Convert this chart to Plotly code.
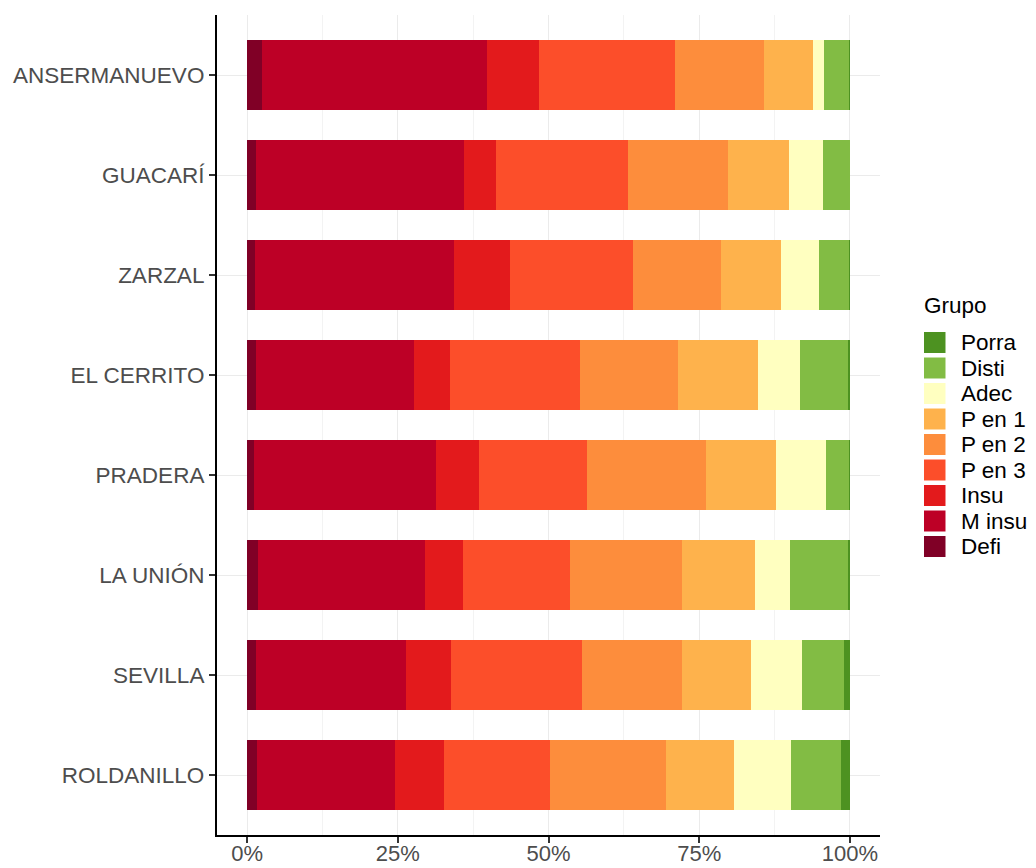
import plotly.graph_objects as go

municipios = ["ANSERMANUEVO", "GUACARÍ", "ZARZAL", "EL CERRITO", "PRADERA",
              "LA UNIÓN", "SEVILLA", "ROLDANILLO"]
grupos = ["Defi", "M insu", "Insu", "P en 3", "P en 2", "P en 1", "Adec", "Disti", "Porra"]
colores = ["#800026", "#BD0026", "#E31A1C", "#FC4E2A", "#FD8D3C", "#FEB24C",
           "#FFFFC0", "#82BC44", "#4D9221"]

# percentages per group, in municipio order
defi   = [2.5, 1.5, 1.3, 1.5, 1.1, 1.8, 1.4, 1.6]
m_insu = [37.3, 34.4, 33.0, 26.2, 30.2, 27.8, 24.9, 22.9]
insu   = [8.7, 5.4, 9.3, 6.0, 7.1, 6.2, 7.5, 8.1]
p_en_3 = [22.6, 21.9, 20.5, 21.4, 18.0, 17.8, 21.8, 17.6]
p_en_2 = [14.8, 16.6, 14.6, 16.3, 19.7, 18.6, 16.6, 19.2]
p_en_1 = [8.1, 10.1, 10.0, 13.2, 11.6, 12.1, 11.5, 11.3]
adec   = [1.8, 5.6, 6.3, 7.0, 8.3, 5.8, 8.5, 9.4]
disti  = [4.2, 4.5, 5.0, 8.0, 3.9, 9.8, 7.0, 8.3]
porra  = [0.1, 0.0, 0.1, 0.3, 0.1, 0.2, 0.9, 1.5]

series = [defi, m_insu, insu, p_en_3, p_en_2, p_en_1, adec, disti, porra]
totales = [sum(s[i] for s in series) for i in range(len(municipios))]

FONT = "Liberation Sans, Arial, sans-serif"

fig = go.Figure()
for g, c, vals in zip(grupos, colores, series):
    fig.add_trace(go.Bar(
        y=municipios, x=[v / t for v, t in zip(vals, totales)], name=g, orientation="h",
        marker=dict(color=c, line=dict(width=0)), width=0.7, showlegend=False,
    ))

# legend drawn as layout decorations (ggplot-style keys)
W, H = 663.0, 820.0  # plot area size in px
shapes, annotations = [], []
annotations.append(dict(text="Grupo", xref="paper", yref="paper",
                        x=(922 - 217) / W, y=(835 - 305) / H, xanchor="left", yanchor="middle",
                        showarrow=False, font=dict(family=FONT, size=22.5, color="black")))
for i, (g, c) in enumerate(zip(grupos[::-1], colores[::-1])):
    yc = 342.5 + 25.5 * i
    shapes.append(dict(type="rect", xref="paper", yref="paper",
                       x0=(924 - 217) / W, x1=(945.5 - 217) / W,
                       y0=(835 - (yc - 10.5)) / H, y1=(835 - (yc + 10.5)) / H,
                       fillcolor=c, line=dict(width=0)))
    annotations.append(dict(text=g, xref="paper", yref="paper",
                            x=(959 - 217) / W, y=(835 - yc) / H, xanchor="left", yanchor="middle",
                            showarrow=False, font=dict(family=FONT, size=22.5, color="black")))

fig.update_layout(
    barmode="stack",
    width=1036, height=868,
    margin=dict(l=209, r=164, t=7, b=41),
    plot_bgcolor="white", paper_bgcolor="white",
    font=dict(family=FONT, size=22.5, color="#4d4d4d"),
    shapes=shapes, annotations=annotations,
    showlegend=False,
)
fig.update_xaxes(
    automargin=False,
    range=[-0.05, 1.05], tickvals=[0, 0.25, 0.5, 0.75, 1],
    ticktext=["0%", "25%", "50%", "75%", "100%"],
    showgrid=True, gridcolor="#EBEBEB", gridwidth=1.2,
    minor=dict(tickvals=[0.125, 0.375, 0.625, 0.875], showgrid=True,
               gridcolor="#F3F3F3", gridwidth=0.8),
    showline=True, linecolor="black", linewidth=2.2,
    ticks="outside", ticklen=6, tickcolor="#333333", tickwidth=2,
    ticklabelstandoff=-9,
    zeroline=False, tickfont=dict(family=FONT, size=22, color="#4d4d4d"),
)
fig.update_yaxes(
    automargin=False,
    categoryorder="array", categoryarray=municipios[::-1],
    range=[-0.6, 7.6],
    showgrid=True, gridcolor="#EBEBEB", gridwidth=1.2,
    showline=True, linecolor="black", linewidth=2.2,
    ticks="outside", ticklen=6, tickcolor="#333333", tickwidth=2,
    tickfont=dict(family=FONT, size=22.5, color="#4d4d4d"),
)

fig.write_html("out.html")
